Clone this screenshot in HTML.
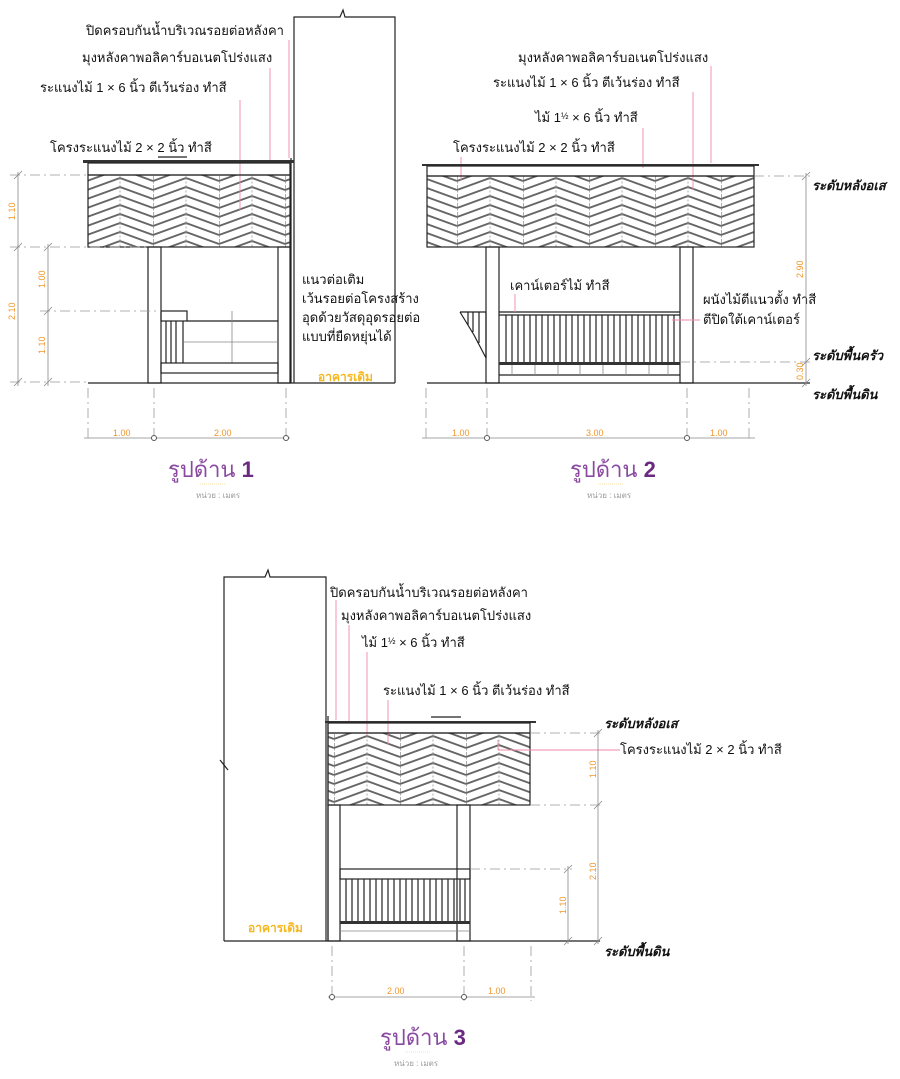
<!DOCTYPE html>
<html><head><meta charset="utf-8"><style>
html,body{margin:0;padding:0;background:#fff;}
svg{display:block;}
.t{font-family:"Liberation Sans","Noto Sans CJK SC",sans-serif;font-size:13px;fill:#111;}
.r{font-family:"Liberation Sans","Noto Sans CJK SC",sans-serif;font-size:13px;fill:#111;font-style:italic;font-weight:bold;}
.d{font-family:"Liberation Sans",sans-serif;font-size:9px;fill:#f0962a;}
.o{font-family:"Liberation Sans","Noto Sans CJK SC",sans-serif;font-size:12px;fill:#f5b820;font-weight:bold;}
.ti{font-family:"Liberation Sans","Noto Sans CJK SC",sans-serif;font-size:22px;fill:#8a4aa0;}
.u{font-family:"Liberation Sans","Noto Sans CJK SC",sans-serif;font-size:8px;fill:#999;}
.k{stroke:#222;fill:none;stroke-width:1.2}
.g{stroke:#888;fill:none;stroke-width:0.8}
.gd{stroke:#999;fill:none;stroke-width:0.8;stroke-dasharray:10 4 2 4}
.p{stroke:#f08aa8;fill:none;stroke-width:0.9}
</style></head><body>
<svg width="900" height="1079" viewBox="0 0 900 1079" xmlns="http://www.w3.org/2000/svg">
<defs>
<g id="cg" stroke="#666" stroke-width="1.9" fill="none">
<polyline points="0,-6 33,-18 66,-6"/><polyline points="0,3 33,-9 66,3"/><polyline points="0,12 33,0 66,12"/><polyline points="0,21 33,9 66,21"/>
<line x1="0.5" y1="0" x2="0.5" y2="9" stroke="#999" stroke-width="0.8" stroke-dasharray="2 1.5"/><line x1="33" y1="0" x2="33" y2="9" stroke="#999" stroke-width="0.8" stroke-dasharray="2 1.5"/>
</g>
<pattern id="c1" x="87" y="178" width="66" height="9" patternUnits="userSpaceOnUse"><use href="#cg"/></pattern>
<pattern id="c2" x="457" y="178" width="66" height="9" patternUnits="userSpaceOnUse"><use href="#cg"/></pattern>
<pattern id="c3" x="334" y="736" width="66" height="9" patternUnits="userSpaceOnUse"><use href="#cg"/></pattern>
</defs>

<!-- ========== DRAWING 1 ========== -->
<text class="t" x="86" y="35">ปิดครอบกันน้ำบริเวณรอยต่อหลังคา</text>
<text class="t" x="82" y="62">มุงหลังคาพอลิคาร์บอเนตโปร่งแสง</text>
<text class="t" x="40" y="92">ระแนงไม้ 1 × 6 นิ้ว  ตีเว้นร่อง  ทำสี</text>
<text class="t" x="50" y="152">โครงระแนงไม้ 2 × 2 นิ้ว  ทำสี</text>
<line class="k" x1="158" y1="157" x2="187" y2="157" stroke-width="0.9"/>
<rect x="88" y="175" width="202" height="72" style="fill:url(#c1)"/>
<rect x="88" y="175" width="202" height="72" class="k"/>
<line class="p" x1="240" y1="100" x2="240" y2="210"/>
<line class="p" x1="270" y1="68" x2="270" y2="160"/>
<line class="p" x1="289" y1="40" x2="289" y2="158"/>
<polyline class="k" points="294,383 294,17 340,17 343,10 345,17 395,17 395,383" stroke-width="1"/>
<line class="k" x1="291" y1="158" x2="291" y2="383"/>
<rect x="83" y="160" width="211" height="3" fill="#333"/>
<rect x="88" y="163" width="202" height="12" class="k" stroke-width="0.9"/>
<rect x="148" y="247" width="13" height="136" class="k"/>
<rect x="278" y="247" width="12" height="136" class="k"/>
<rect x="161" y="311" width="26" height="10" class="k"/>
<line class="k" x1="187" y1="321" x2="278" y2="321"/>
<line class="k" x1="166" y1="321" x2="166" y2="363"/><line class="k" x1="171" y1="321" x2="171" y2="363"/><line class="k" x1="176" y1="321" x2="176" y2="363"/><line class="k" x1="183" y1="321" x2="183" y2="363"/>
<line class="g" x1="232" y1="311" x2="232" y2="363"/>
<line class="g" x1="184" y1="342" x2="278" y2="342"/>
<rect x="161" y="363" width="117" height="10" class="k" stroke-width="1.6"/>
<line class="k" x1="88" y1="383" x2="395" y2="383"/>
<text class="t" x="302" y="284">แนวต่อเติม</text>
<text class="t" x="302" y="303">เว้นรอยต่อโครงสร้าง</text>
<text class="t" x="302" y="322">อุดด้วยวัสดุอุดรอยต่อ</text>
<text class="t" x="302" y="341">แบบที่ยืดหยุ่นได้</text>
<text class="o" x="318" y="381">อาคารเดิม</text>
<line class="g" x1="18" y1="172" x2="18" y2="386"/><line class="g" x1="48" y1="244" x2="48" y2="386"/>
<g class="gd"><line x1="10" y1="175" x2="88" y2="175"/><line x1="10" y1="247" x2="148" y2="247"/><line x1="40" y1="311" x2="161" y2="311"/><line x1="10" y1="382" x2="88" y2="382"/></g>
<g class="g"><line x1="14" y1="179" x2="22" y2="171"/><line x1="14" y1="251" x2="22" y2="243"/><line x1="44" y1="251" x2="52" y2="243"/><line x1="44" y1="315" x2="52" y2="307"/><line x1="14" y1="386" x2="22" y2="378"/><line x1="44" y1="386" x2="52" y2="378"/></g>
<text class="d" transform="translate(15,220) rotate(-90)">1.10</text>
<text class="d" transform="translate(15,320) rotate(-90)">2.10</text>
<text class="d" transform="translate(45,288) rotate(-90)">1.00</text>
<text class="d" transform="translate(45,354) rotate(-90)">1.10</text>
<line class="g" x1="84" y1="438" x2="290" y2="438"/>
<g class="gd"><line x1="88" y1="388" x2="88" y2="442"/><line x1="154" y1="388" x2="154" y2="442"/><line x1="286" y1="388" x2="286" y2="442"/></g>
<circle cx="154" cy="438" r="2.5" fill="#fff" stroke="#555"/><circle cx="286" cy="438" r="2.5" fill="#fff" stroke="#555"/>
<text class="d" x="113" y="436">1.00</text><text class="d" x="214" y="436">2.00</text>
<text class="ti" x="168" y="477">รูปด้าน <tspan font-weight="bold" fill="#6a2a80">1</tspan></text>
<line x1="200" y1="484" x2="225" y2="484" stroke="#f5c84a" stroke-width="0.6" stroke-dasharray="1 1"/>
<text class="u" x="196" y="498">หน่วย : เมตร</text>

<!-- ========== DRAWING 2 ========== -->
<text class="t" x="518" y="62">มุงหลังคาพอลิคาร์บอเนตโปร่งแสง</text>
<text class="t" x="493" y="87">ระแนงไม้ 1 × 6 นิ้ว  ตีเว้นร่อง  ทำสี</text>
<text class="t" x="535" y="122">ไม้ 1<tspan font-size="9" dy="-3">½</tspan><tspan dy="3"> × 6 นิ้ว  ทำสี</tspan></text>
<text class="t" x="453" y="152">โครงระแนงไม้ 2 × 2 นิ้ว  ทำสี</text>
<rect x="427" y="176" width="327" height="71" style="fill:url(#c2)"/>
<rect x="427" y="176" width="327" height="71" class="k"/>
<line class="p" x1="461" y1="157" x2="461" y2="180"/>
<line class="p" x1="643" y1="128" x2="643" y2="168"/>
<line class="p" x1="693" y1="92" x2="693" y2="190"/>
<line class="p" x1="711" y1="66" x2="711" y2="163"/>
<rect x="422" y="164" width="337" height="2" fill="#333"/>
<rect x="427" y="166" width="327" height="10" class="k" stroke-width="0.9"/>
<rect x="486" y="247" width="13" height="136" class="k"/>
<rect x="680" y="247" width="13" height="136" class="k"/>
<polyline class="k" points="460,312 486,312 486,358 474,335 460,312"/>
<g class="k" stroke-width="0.8"><line x1="468" y1="312" x2="468" y2="325"/><line x1="473" y1="312" x2="473" y2="332"/><line x1="479" y1="312" x2="479" y2="343"/></g>
<line class="k" x1="499" y1="312" x2="680" y2="312"/><line class="k" x1="499" y1="315" x2="680" y2="315"/>
<g class="k" stroke-width="0.9">
<line x1="506" y1="315" x2="506" y2="362"/><line x1="512" y1="315" x2="512" y2="362"/><line x1="518" y1="315" x2="518" y2="362"/><line x1="524" y1="315" x2="524" y2="362"/><line x1="530" y1="315" x2="530" y2="362"/><line x1="536" y1="315" x2="536" y2="362"/><line x1="542" y1="315" x2="542" y2="362"/><line x1="548" y1="315" x2="548" y2="362"/><line x1="554" y1="315" x2="554" y2="362"/><line x1="560" y1="315" x2="560" y2="362"/><line x1="566" y1="315" x2="566" y2="362"/><line x1="572" y1="315" x2="572" y2="362"/><line x1="578" y1="315" x2="578" y2="362"/><line x1="584" y1="315" x2="584" y2="362"/><line x1="590" y1="315" x2="590" y2="362"/><line x1="596" y1="315" x2="596" y2="362"/><line x1="602" y1="315" x2="602" y2="362"/><line x1="608" y1="315" x2="608" y2="362"/><line x1="614" y1="315" x2="614" y2="362"/><line x1="620" y1="315" x2="620" y2="362"/><line x1="626" y1="315" x2="626" y2="362"/><line x1="632" y1="315" x2="632" y2="362"/><line x1="638" y1="315" x2="638" y2="362"/><line x1="644" y1="315" x2="644" y2="362"/><line x1="650" y1="315" x2="650" y2="362"/><line x1="656" y1="315" x2="656" y2="362"/><line x1="662" y1="315" x2="662" y2="362"/><line x1="668" y1="315" x2="668" y2="362"/><line x1="674" y1="315" x2="674" y2="362"/>
</g>
<rect x="499" y="362" width="181" height="3" fill="#333"/>
<line class="k" x1="499" y1="375" x2="680" y2="375"/>
<g class="g"><line x1="512" y1="365" x2="512" y2="375"/><line x1="535" y1="365" x2="535" y2="375"/><line x1="558" y1="365" x2="558" y2="375"/><line x1="580" y1="365" x2="580" y2="375"/><line x1="603" y1="365" x2="603" y2="375"/><line x1="626" y1="365" x2="626" y2="375"/><line x1="649" y1="365" x2="649" y2="375"/><line x1="668" y1="365" x2="668" y2="375"/></g>
<line class="k" x1="427" y1="383" x2="810" y2="383"/>
<text class="t" x="510" y="290">เคาน์เตอร์ไม้  ทำสี</text>
<line class="p" x1="515" y1="294" x2="515" y2="312"/>
<text class="t" x="703" y="304">ผนังไม้ตีแนวตั้ง  ทำสี</text>
<text class="t" x="703" y="324">ตีปิดใต้เคาน์เตอร์</text>
<line class="p" x1="672" y1="320" x2="700" y2="320"/>
<line class="g" x1="806" y1="173" x2="806" y2="386"/>
<g class="gd"><line x1="754" y1="176" x2="810" y2="176"/><line x1="680" y1="362" x2="810" y2="362"/></g>
<g class="g"><line x1="802" y1="180" x2="810" y2="172"/><line x1="802" y1="366" x2="810" y2="358"/><line x1="802" y1="387" x2="810" y2="379"/></g>
<text class="d" transform="translate(803,278) rotate(-90)">2.90</text>
<text class="d" transform="translate(803,380) rotate(-90)">0.30</text>
<text class="r" x="812" y="190">ระดับหลังอเส</text>
<text class="r" x="812" y="360">ระดับพื้นครัว</text>
<text class="r" x="812" y="399">ระดับพื้นดิน</text>
<line class="g" x1="422" y1="438" x2="755" y2="438"/>
<g class="gd"><line x1="426" y1="388" x2="426" y2="442"/><line x1="487" y1="388" x2="487" y2="442"/><line x1="687" y1="388" x2="687" y2="442"/><line x1="749" y1="388" x2="749" y2="442"/></g>
<circle cx="487" cy="438" r="2.5" fill="#fff" stroke="#555"/><circle cx="687" cy="438" r="2.5" fill="#fff" stroke="#555"/>
<text class="d" x="452" y="436">1.00</text><text class="d" x="586" y="436">3.00</text><text class="d" x="710" y="436">1.00</text>
<text class="ti" x="570" y="477">รูปด้าน <tspan font-weight="bold" fill="#6a2a80">2</tspan></text>
<line x1="598" y1="484" x2="623" y2="484" stroke="#f5c84a" stroke-width="0.6" stroke-dasharray="1 1"/>
<text class="u" x="587" y="498">หน่วย : เมตร</text>

<!-- ========== DRAWING 3 ========== -->
<polyline class="k" points="224,941 224,577 265,577 268,570 270,577 326,577 326,941" stroke-width="1"/>
<polyline class="k" points="220,760 224,765 228,770" stroke-width="0.8"/>
<line class="k" x1="328" y1="716" x2="328" y2="941" stroke-width="1.4"/>
<text class="t" x="330" y="597">ปิดครอบกันน้ำบริเวณรอยต่อหลังคา</text>
<text class="t" x="341" y="620">มุงหลังคาพอลิคาร์บอเนตโปร่งแสง</text>
<text class="t" x="362" y="647">ไม้ 1<tspan font-size="9" dy="-3">½</tspan><tspan dy="3"> × 6 นิ้ว  ทำสี</tspan></text>
<text class="t" x="383" y="695">ระแนงไม้ 1 × 6 นิ้ว  ตีเว้นร่อง  ทำสี</text>
<rect x="328" y="733" width="202" height="72" style="fill:url(#c3)"/>
<rect x="328" y="733" width="202" height="72" class="k"/>
<line class="p" x1="336" y1="600" x2="336" y2="720"/>
<line class="p" x1="349" y1="625" x2="349" y2="722"/>
<line class="p" x1="367" y1="652" x2="367" y2="735"/>
<line class="p" x1="388" y1="700" x2="388" y2="745"/>
<rect x="325" y="721" width="211" height="2" fill="#333"/>
<rect x="328" y="723" width="202" height="10" class="k" stroke-width="0.9"/>
<line class="k" x1="431" y1="717" x2="461" y2="717" stroke-width="0.9"/>
<line class="p" x1="498" y1="750" x2="620" y2="750"/><line class="p" x1="498" y1="740" x2="498" y2="750"/>
<rect x="328" y="805" width="12" height="136" class="k"/>
<rect x="457" y="805" width="13" height="136" class="k"/>
<rect x="340" y="869" width="130" height="10" class="k"/>
<g class="k" stroke-width="0.9">
<line x1="346" y1="879" x2="346" y2="922"/><line x1="352" y1="879" x2="352" y2="922"/><line x1="358" y1="879" x2="358" y2="922"/><line x1="364" y1="879" x2="364" y2="922"/><line x1="370" y1="879" x2="370" y2="922"/><line x1="376" y1="879" x2="376" y2="922"/><line x1="382" y1="879" x2="382" y2="922"/><line x1="388" y1="879" x2="388" y2="922"/><line x1="394" y1="879" x2="394" y2="922"/><line x1="400" y1="879" x2="400" y2="922"/><line x1="406" y1="879" x2="406" y2="922"/><line x1="412" y1="879" x2="412" y2="922"/><line x1="418" y1="879" x2="418" y2="922"/><line x1="424" y1="879" x2="424" y2="922"/><line x1="430" y1="879" x2="430" y2="922"/><line x1="436" y1="879" x2="436" y2="922"/><line x1="442" y1="879" x2="442" y2="922"/><line x1="448" y1="879" x2="448" y2="922"/><line x1="454" y1="879" x2="454" y2="922"/><line x1="460" y1="879" x2="460" y2="922"/><line x1="465" y1="879" x2="465" y2="922"/>
</g>
<rect x="340" y="921" width="130" height="3" fill="#333"/>
<line class="g" x1="340" y1="931" x2="470" y2="931"/>
<line class="k" x1="224" y1="941" x2="600" y2="941"/>
<text class="o" x="248" y="932">อาคารเดิม</text>
<line class="g" x1="598" y1="730" x2="598" y2="944"/><line class="g" x1="568" y1="866" x2="568" y2="944"/>
<g class="gd"><line x1="530" y1="733" x2="602" y2="733"/><line x1="530" y1="805" x2="602" y2="805"/><line x1="470" y1="869" x2="572" y2="869"/></g>
<g class="g"><line x1="594" y1="737" x2="602" y2="729"/><line x1="594" y1="809" x2="602" y2="801"/><line x1="594" y1="945" x2="602" y2="937"/><line x1="564" y1="873" x2="572" y2="865"/><line x1="564" y1="945" x2="572" y2="937"/></g>
<text class="d" transform="translate(596,778) rotate(-90)">1.10</text>
<text class="d" transform="translate(596,880) rotate(-90)">2.10</text>
<text class="d" transform="translate(566,914) rotate(-90)">1.10</text>
<text class="r" x="604" y="728">ระดับหลังอเส</text>
<text class="t" x="620" y="754">โครงระแนงไม้ 2 × 2 นิ้ว  ทำสี</text>
<text class="r" x="604" y="956">ระดับพื้นดิน</text>
<line class="g" x1="328" y1="997" x2="535" y2="997"/>
<g class="gd"><line x1="332" y1="946" x2="332" y2="1001"/><line x1="464" y1="946" x2="464" y2="1001"/><line x1="531" y1="946" x2="531" y2="1001"/></g>
<circle cx="332" cy="997" r="2.5" fill="#fff" stroke="#555"/><circle cx="464" cy="997" r="2.5" fill="#fff" stroke="#555"/>
<text class="d" x="387" y="994">2.00</text><text class="d" x="488" y="994">1.00</text>
<text class="ti" x="380" y="1045">รูปด้าน <tspan font-weight="bold" fill="#6a2a80">3</tspan></text>
<line x1="405" y1="1052" x2="430" y2="1052" stroke="#f5c84a" stroke-width="0.6" stroke-dasharray="1 1"/>
<text class="u" x="394" y="1066">หน่วย : เมตร</text>
</svg>
</body></html>
